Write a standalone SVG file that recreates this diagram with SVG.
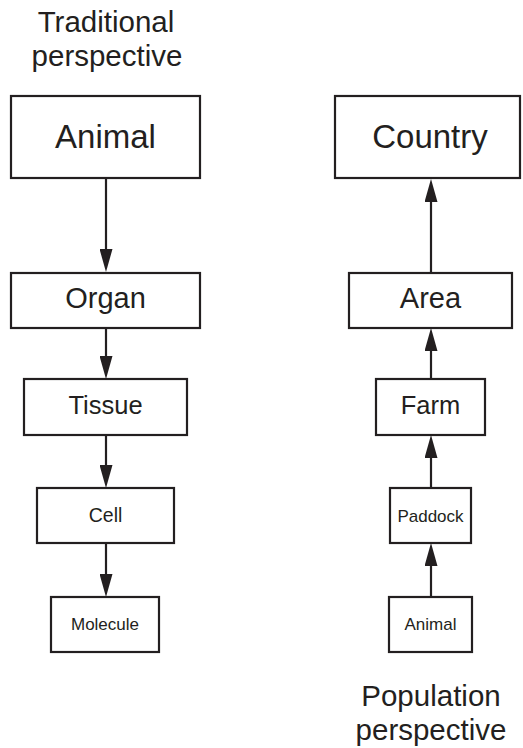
<svg xmlns="http://www.w3.org/2000/svg" width="523" height="748" viewBox="0 0 523 748">
  <style>
    .box { fill: #ffffff; stroke: #231f20; stroke-width: 2.2; }
    .conn { stroke: #231f20; stroke-width: 2.2; fill: none; marker-end: url(#arrow); }
    text { font-family: "Liberation Sans", Arial, Helvetica, sans-serif; fill: #231f20; text-anchor: middle; }
    .title { font-size: 29.5px; }
    .xl { font-size: 33px; }
    .l { font-size: 29px; }
    .m { font-size: 25.5px; }
    .s { font-size: 19.5px; }
    .xs { font-size: 17px; }
  </style>
  <defs>
    <marker id="arrow" viewBox="0 0 23 13" refX="13" refY="6.5" markerWidth="23" markerHeight="13" markerUnits="userSpaceOnUse" orient="auto">
      <path d="M0,0 L23,6.5 L0,13 z" fill="#231f20"/>
    </marker>
  </defs>
  <rect width="523" height="748" fill="#ffffff"/>

  <g id="title-traditional">
    <text class="title" x="106" y="32">Traditional</text>
    <text class="title" x="107" y="66">perspective</text>
  </g>
  <g id="title-population">
    <text class="title" x="431" y="706">Population</text>
    <text class="title" x="431" y="740">perspective</text>
  </g>

  <g id="connectors">
    <line class="conn" x1="106" y1="178" x2="106" y2="262"/>
    <line class="conn" x1="106" y1="328" x2="106" y2="369"/>
    <line class="conn" x1="106" y1="435" x2="106" y2="478"/>
    <line class="conn" x1="106" y1="543" x2="106" y2="587"/>
    <line class="conn" x1="431" y1="273" x2="431" y2="189"/>
    <line class="conn" x1="431" y1="379" x2="431" y2="338"/>
    <line class="conn" x1="431" y1="488" x2="431" y2="445"/>
    <line class="conn" x1="431" y1="597" x2="431" y2="553"/>
  </g>

  <g id="node-animal">
    <rect class="box" x="11" y="96" width="189" height="82"/>
    <text class="xl" x="105.5" y="148">Animal</text>
  </g>
  <g id="node-organ">
    <rect class="box" x="11" y="273" width="189" height="55"/>
    <text class="l" x="105.5" y="308">Organ</text>
  </g>
  <g id="node-tissue">
    <rect class="box" x="24" y="379" width="163" height="56"/>
    <text class="m" x="105.5" y="414">Tissue</text>
  </g>
  <g id="node-cell">
    <rect class="box" x="37" y="488" width="137" height="55"/>
    <text class="s" x="105.5" y="522">Cell</text>
  </g>
  <g id="node-molecule">
    <rect class="box" x="51" y="597" width="108" height="55"/>
    <text class="xs" x="105" y="630">Molecule</text>
  </g>

  <g id="node-country">
    <rect class="box" x="335" y="96" width="185" height="82"/>
    <text class="xl" x="430" y="148">Country</text>
  </g>
  <g id="node-area">
    <rect class="box" x="349" y="273" width="163" height="55"/>
    <text class="l" x="430.5" y="308">Area</text>
  </g>
  <g id="node-farm">
    <rect class="box" x="376" y="379" width="109" height="56"/>
    <text class="m" x="430.5" y="414">Farm</text>
  </g>
  <g id="node-paddock">
    <rect class="box" x="390" y="488" width="81" height="55"/>
    <text class="xs" x="430.5" y="522">Paddock</text>
  </g>
  <g id="node-animal-pop">
    <rect class="box" x="389" y="597" width="83" height="55"/>
    <text class="xs" x="430.5" y="630">Animal</text>
  </g>
</svg>
